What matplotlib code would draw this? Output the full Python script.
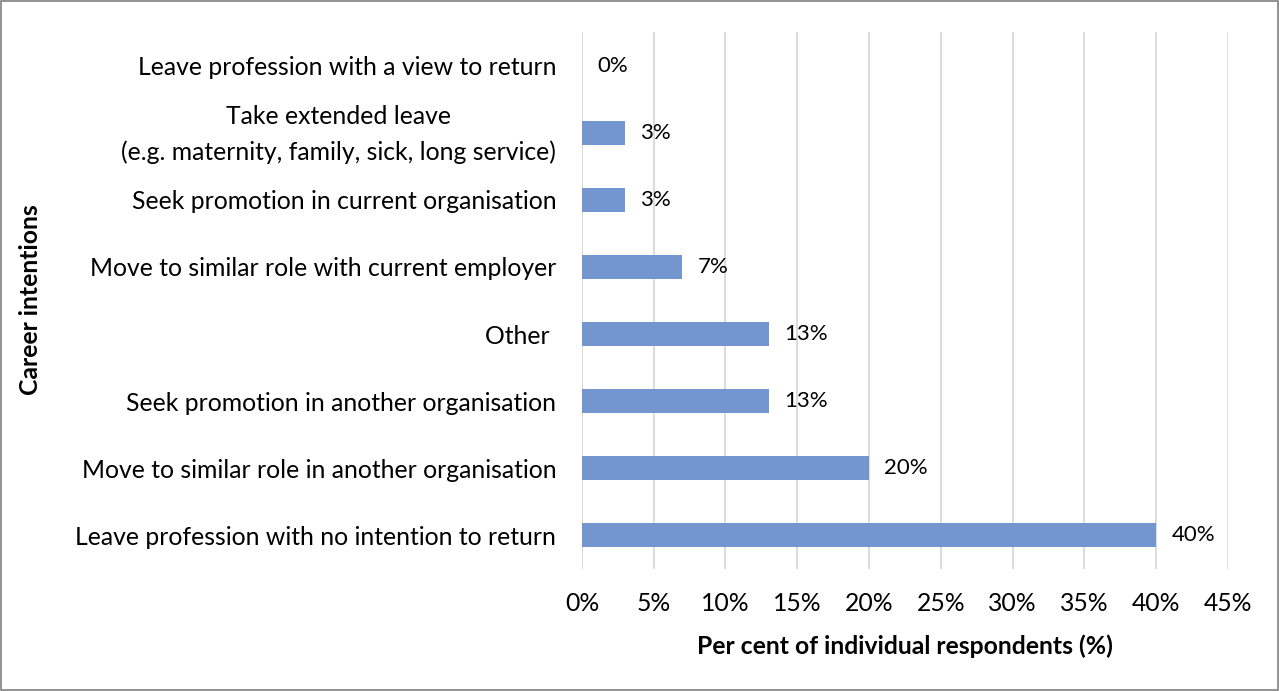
import matplotlib
matplotlib.use("Agg")
import matplotlib.pyplot as plt
from matplotlib.patches import Rectangle
from matplotlib.transforms import ScaledTranslation
from matplotlib.ticker import MultipleLocator, FuncFormatter

categories = [
    "Leave profession with no intention to return",
    "Move to similar role in another organisation",
    "Seek promotion in another organisation",
    "Other ",
    "Move to similar role with current employer",
    "Seek promotion in current organisation",
    "Take extended leave\n(e.g. maternity, family, sick, long service)",
    "Leave profession with a view to return",
]
values = [40, 20, 13, 13, 7, 3, 3, 0]
labels = ["40%", "20%", "13%", "13%", "7%", "3%", "3%", "0%"]

plt.rcParams['font.family'] = ['Lato', 'DejaVu Sans']
fig = plt.figure(figsize=(12.79, 6.91), dpi=100)
ax = fig.add_axes([0.455, 0.1766, 0.505, 0.777])

y = list(range(len(categories)))
ax.barh(y, values, height=0.36, color="#7396CE", zorder=3)
ax.set_ylim(-0.5, len(categories) - 0.5)
ax.set_xlim(0, 45)
ax.xaxis.set_major_locator(MultipleLocator(5))
ax.xaxis.set_major_formatter(FuncFormatter(lambda v, p: f"{int(round(v))}%"))
ax.grid(axis="x", color="#D9D9D9", linewidth=1.3, zorder=0)
ax.set_axisbelow(True)
for s in ax.spines.values():
    s.set_visible(False)
ax.tick_params(axis="both", length=0, labelsize=17.8, colors="black")
ax.tick_params(axis="x", pad=16.5)
ax.tick_params(axis="y", pad=18.5)
ax.set_yticks(y)
ticklabels = ax.set_yticklabels(categories, multialignment="center", linespacing=1.6)
for t in ticklabels:
    if "\n" in t.get_text():
        t.set_transform(t.get_transform() + ScaledTranslation(0, 4.5 / 72, fig.dpi_scale_trans))

for yi, v, lab in zip(y, values, labels):
    ax.annotate(lab, (v, yi), xytext=(11, 0), textcoords="offset points",
                ha="left", va="center", fontsize=16, color="black")

ax.set_xlabel("Per cent of individual respondents (%)", fontsize=17.8, fontweight="bold", labelpad=14)
fig.text(0.024, 0.566, "Career intentions", rotation=90, ha="center", va="center",
         fontsize=17.8, fontweight="bold")

fig.patches.append(Rectangle((0.001, 0.001), 0.998, 0.997, transform=fig.transFigure,
                             fill=False, edgecolor="#808080", linewidth=1.2))
fig.savefig("out.png", dpi=100)
